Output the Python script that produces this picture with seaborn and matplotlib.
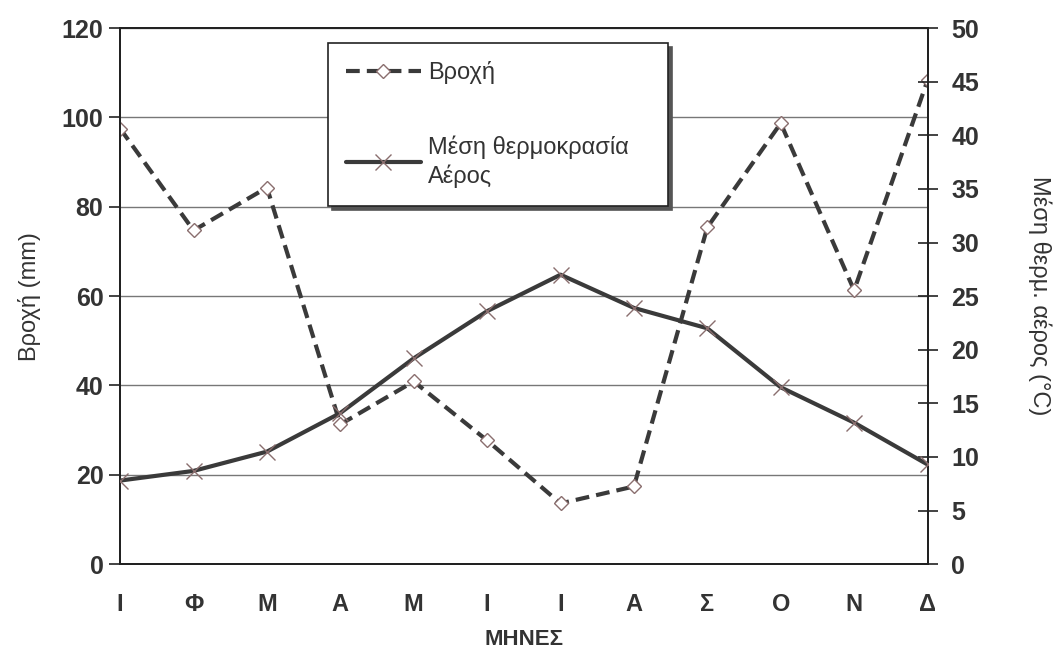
import numpy as np
import pandas as pd
import matplotlib
matplotlib.use("Agg")
import matplotlib.pyplot as plt
import seaborn as sns

# Data
months = ['Ι', 'Φ', 'Μ', 'Α', 'Μ', 'Ι', 'Ι', 'Α', 'Σ', 'Ο', 'Ν', 'Δ']
rain = [97.5, 74.7, 84.3, 31.3, 40.9, 27.7, 13.6, 17.4, 75.4, 98.7, 61.3, 108.3]
temp = [7.8, 8.7, 10.5, 14.1, 19.2, 23.6, 27.0, 23.9, 22.0, 16.5, 13.2, 9.3]

df = pd.DataFrame({'idx': np.arange(len(months)), 'Βροχή': rain, 'Θερμ': temp})

sns.set_style("white")
plt.rcParams['font.family'] = ['Liberation Sans', 'DejaVu Sans']

line_col = '#3a3a3a'
mk_col = '#8a6e6e'
txt_col = '#333333'

fig = plt.figure(figsize=(10.54, 6.53), dpi=100)
ax = fig.add_axes([0.114, 0.136, 0.766, 0.821])
ax2 = ax.twinx()

sns.lineplot(data=df, x='idx', y='Βροχή', ax=ax, color=line_col, lw=3,
             linestyle=(0, (3.3, 1.7)), marker='D', markersize=7,
             markerfacecolor='white', markeredgecolor=mk_col, markeredgewidth=1,
             label='Βροχή', legend=False, zorder=3)
sns.lineplot(data=df, x='idx', y='Θερμ', ax=ax2, color=line_col, lw=3,
             marker='x', markersize=11, markeredgecolor=mk_col, markeredgewidth=1,
             label='Μέση θερμοκρασία\nΑέρος', legend=False, zorder=3)

ax.set_xlim(0, 11)
ax.set_ylim(0, 120)
ax2.set_ylim(0, 50)
ax.set_yticks(np.arange(0, 121, 20))
ax2.set_yticks(np.arange(0, 51, 5))
ax.set_xticks(np.arange(len(months)))
ax.set_xticklabels(months, fontweight='bold', fontsize=17, color=txt_col)

ax.yaxis.grid(True, color='#777777', lw=1)
ax.xaxis.grid(False)
ax2.grid(False)

for a in (ax, ax2):
    for s in a.spines.values():
        s.set_color('#222222')
        s.set_linewidth(1.4)
        s.set_visible(True)

ax.tick_params(axis='y', direction='out', length=8, width=1.2, color='#222222',
               labelsize=18, labelcolor=txt_col, pad=4)
ax.tick_params(axis='x', length=0, pad=21)
ax2.tick_params(axis='y', direction='inout', length=14, width=1.2, color='#222222',
                labelsize=18, labelcolor=txt_col, pad=10)
for t in ax.get_yticklabels() + ax2.get_yticklabels():
    t.set_fontweight('bold')

ax.set_xlabel('ΜΗΝΕΣ', family=['Liberation Sans Narrow', 'Liberation Sans'],
              fontweight='bold', fontsize=16, color=txt_col, labelpad=9)
ax.set_ylabel('Βροχή (mm)', fontsize=17, color=txt_col, labelpad=15)
ax2.set_ylabel('Μέση θερμ. αέρος (°C)', fontsize=17, color=txt_col,
               rotation=270, labelpad=52)

h1, l1 = ax.get_legend_handles_labels()
h2, l2 = ax2.get_legend_handles_labels()
leg = ax2.legend(h1 + h2, l1 + l2, loc='upper left', mode='expand',
                 bbox_to_anchor=(0.311, 0.685, 0.323, 0.249),
                 bbox_transform=fig.transFigure, borderaxespad=0,
                 fontsize=17, frameon=True, fancybox=False,
                 shadow={'ox': 3, 'oy': -3, 'color': '#555555', 'alpha': 1},
                 edgecolor='#222222', framealpha=1, handlelength=3.2,
                 labelspacing=2.2, borderpad=0.75, handletextpad=0.3)
leg.get_frame().set_linewidth(1.2)
for t in leg.get_texts():
    t.set_color(txt_col)
    t.set_linespacing(1.3)

fig.savefig('out.png', dpi=100, facecolor='white')
